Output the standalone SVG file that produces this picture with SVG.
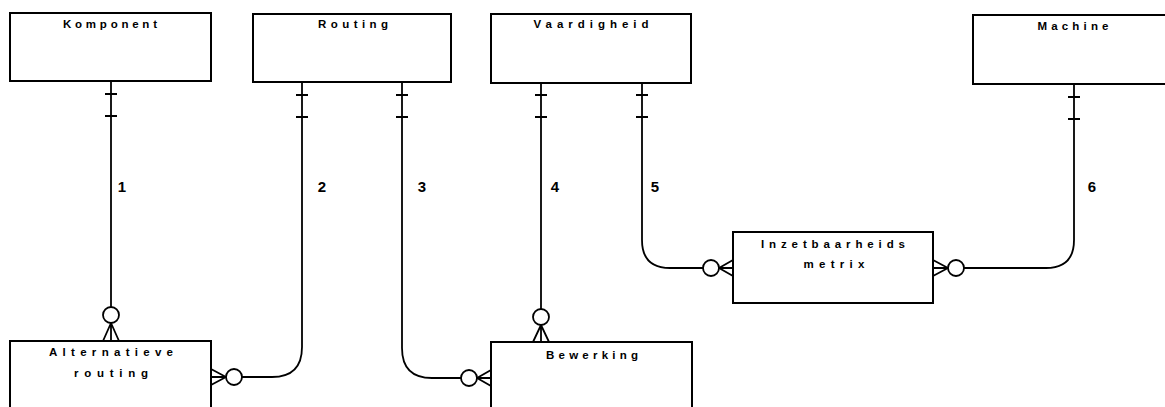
<svg xmlns="http://www.w3.org/2000/svg" width="1165" height="407" viewBox="0 0 1165 407">
<style>
.box{fill:#fff;stroke:#000;stroke-width:2}
.lbl{font-family:"Liberation Sans",Arial,sans-serif;font-weight:bold;font-size:11.5px;fill:#000;text-anchor:middle}
.num{font-family:"Liberation Sans",Arial,sans-serif;font-weight:bold;font-size:15px;fill:#000;text-anchor:middle}
.ln{fill:none;stroke:#000;stroke-width:1.8}
.c{fill:#fff;stroke:#000;stroke-width:1.8}
</style>
<rect width="1165" height="407" fill="#fff"/>
<g id="connectors">
  <!-- 1 Komponent - Alternatieve routing -->
  <path class="ln" d="M111,81 V307"/>
  <path class="ln" d="M105,94 H117 M105,116 H117"/>
  <circle class="c" cx="111" cy="315" r="8"/>
  <path class="ln" d="M111,323 L103,341 M111,323 V341 M111,323 L119,341"/>
  <!-- 2 Routing - Alternatieve routing -->
  <path class="ln" d="M302,82 V347 Q302,377 272,377 H242"/>
  <path class="ln" d="M296,95 H308 M296,117 H308"/>
  <circle class="c" cx="234" cy="377" r="8"/>
  <path class="ln" d="M226,377 L211,369 M226,377 H211 M226,377 L211,385"/>
  <!-- 3 Routing - Bewerking -->
  <path class="ln" d="M402,82 V348 Q402,378 432,378 H461"/>
  <path class="ln" d="M396,95 H408 M396,117 H408"/>
  <circle class="c" cx="469" cy="378" r="8"/>
  <path class="ln" d="M477,378 L491,370 M477,378 H491 M477,378 L491,386"/>
  <!-- 4 Vaardigheid - Bewerking -->
  <path class="ln" d="M541,83 V309"/>
  <path class="ln" d="M535,95 H547 M535,117 H547"/>
  <circle class="c" cx="541" cy="317" r="8"/>
  <path class="ln" d="M541,325 L533,342 M541,325 V342 M541,325 L549,342"/>
  <!-- 5 Vaardigheid - Inzetbaarheids metrix -->
  <path class="ln" d="M642,83 V240 Q642,268 670,268 H703"/>
  <path class="ln" d="M636,95 H648 M636,117 H648"/>
  <circle class="c" cx="711" cy="268" r="8"/>
  <path class="ln" d="M719,268 L733,260 M719,268 H733 M719,268 L733,276"/>
  <!-- 6 Machine - Inzetbaarheids metrix -->
  <path class="ln" d="M1074,84 V240 Q1074,268 1046,268 H964"/>
  <path class="ln" d="M1068,97 H1080 M1068,119 H1080"/>
  <circle class="c" cx="956" cy="268" r="8"/>
  <path class="ln" d="M948,268 L933,260 M948,268 H933 M948,268 L933,276"/>
  <text class="num" x="122" y="192">1</text>
  <text class="num" x="322" y="192">2</text>
  <text class="num" x="422" y="192">3</text>
  <text class="num" x="555" y="192">4</text>
  <text class="num" x="655" y="192">5</text>
  <text class="num" x="1092" y="192">6</text>
</g>
<g id="komponent">
  <rect class="box" x="10" y="13" width="201" height="68"/>
  <text class="lbl" x="110" y="28" textLength="94" lengthAdjust="spacing">Komponent</text>
</g>
<g id="routing">
  <rect class="box" x="253" y="14" width="198" height="68"/>
  <text class="lbl" x="353" y="28" textLength="70" lengthAdjust="spacing">Routing</text>
</g>
<g id="vaardigheid">
  <rect class="box" x="491" y="14" width="200" height="69"/>
  <text class="lbl" x="591" y="28" textLength="115" lengthAdjust="spacing">Vaardigheid</text>
</g>
<g id="machine">
  <rect class="box" x="973" y="15" width="202" height="69"/>
  <text class="lbl" x="1073" y="30" textLength="71" lengthAdjust="spacing">Machine</text>
</g>
<g id="inzetbaarheids-metrix">
  <rect class="box" x="733" y="232" width="200" height="71"/>
  <text class="lbl" x="833" y="248" textLength="144" lengthAdjust="spacing">Inzetbaarheids</text>
  <text class="lbl" x="834" y="268" textLength="61" lengthAdjust="spacing">metrix</text>
</g>
<g id="alternatieve-routing">
  <rect class="box" x="10" y="341" width="201" height="80"/>
  <text class="lbl" x="111" y="356" textLength="124" lengthAdjust="spacing">Alternatieve</text>
  <text class="lbl" x="111" y="377" textLength="74" lengthAdjust="spacing">routing</text>
</g>
<g id="bewerking">
  <rect class="box" x="491" y="342" width="201" height="80"/>
  <text class="lbl" x="592" y="359" textLength="92" lengthAdjust="spacing">Bewerking</text>
</g>
</svg>
